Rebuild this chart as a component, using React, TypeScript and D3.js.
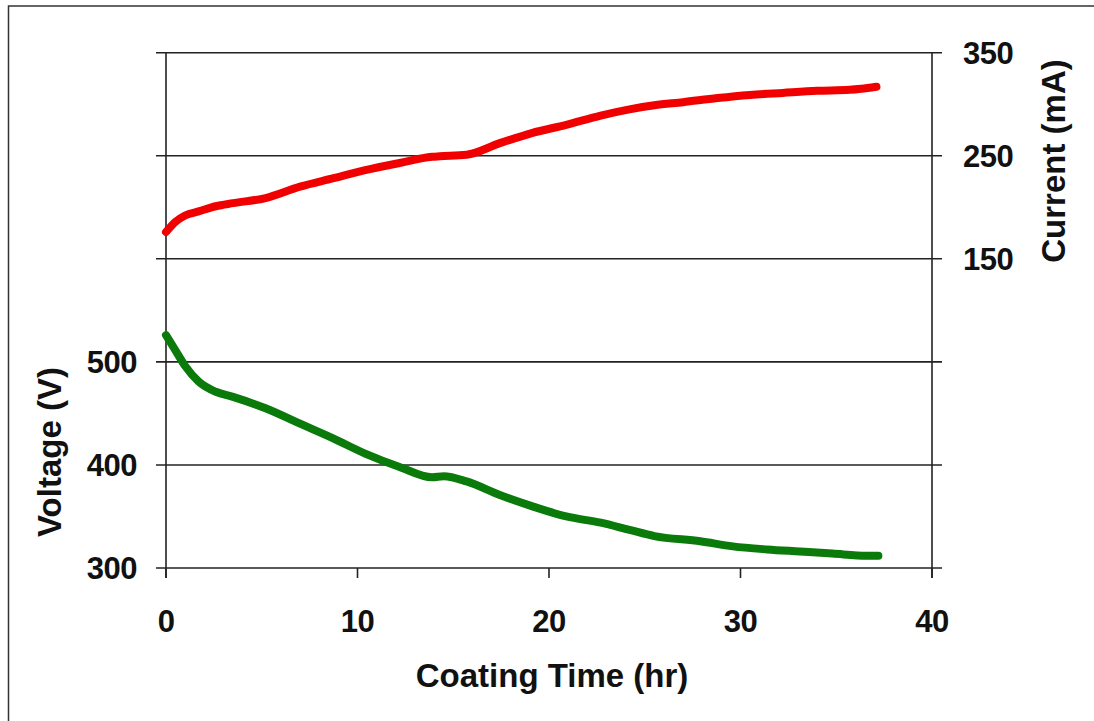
import * as d3 from "d3";

// Coating time (hr) and readings
const voltTime = [0, 0.5, 1, 1.7, 2.6, 3.5, 5.2, 7, 8.7, 10.4, 12.2, 13.9, 14.5, 15.7, 17.4, 19.1, 20.9, 22.7, 24.2, 25.5, 27.9, 29.6, 31.4, 33.1, 34.8, 36.6, 37.2];
const voltage = [526, 511, 496, 481, 471, 466, 455, 440, 426, 411, 398, 388, 389, 384, 371, 360, 350, 344, 337, 331, 326, 321, 318, 316, 314, 312, 312];

const currTime = [0, 0.5, 1, 1.7, 2.6, 3.5, 5.2, 7, 8.7, 10.4, 12.2, 13.9, 14.3, 15.7, 17.4, 19.1, 20.9, 22.7, 24.2, 25.5, 27, 28.8, 30.5, 32.2, 34, 35.7, 36.3, 37.1];
const current = [176, 186, 192, 196, 201, 204, 209, 220, 228, 236, 243, 249, 249.5, 251, 262, 272, 280, 289, 295, 299, 302, 306, 309, 311, 313, 314, 315, 317];

const xTicks = [0, 10, 20, 30, 40];
const gridVolts = [300, 400, 500, 600, 700, 800];
const voltLabels = [300, 400, 500];
const currLabels = [150, 250, 350];

const W = 1094, H = 721;
const font = "'Liberation Sans', Arial, sans-serif";

export default function App() {
  const left = 166, right = 932, top = 52.7, bottom = 568;
  const tick = 10;

  const x = d3.scaleLinear().domain([0, 40]).range([left, right]);
  const yV = d3.scaleLinear().domain([300, 800]).range([bottom, top]);
  const yC = d3.scaleLinear().domain([-150, 350]).range([bottom, top]);

  const voltLine = d3
    .line<number>()
    .x((d, i) => x(voltTime[i]))
    .y((d) => yV(d))
    .curve(d3.curveMonotoneX);
  const currLine = d3
    .line<number>()
    .x((d, i) => x(currTime[i]))
    .y((d) => yC(d))
    .curve(d3.curveMonotoneX);

  const ink = "#222";

  return (
    <svg
      width={W}
      height={H}
      style={{ position: "absolute", left: 0, top: 0, background: "#fff" }}
    >
      <rect x={0} y={0} width={W} height={H} fill="#fff" />
      <rect x={8.5} y={6} width={1200} height={900} fill="none" stroke="#333" strokeWidth={1.5} />

      {/* gridlines with outside ticks on both sides */}
      {gridVolts.map((v) => (
        <line key={v} x1={left - tick} x2={right + tick} y1={yV(v)} y2={yV(v)} stroke={ink} strokeWidth={1.6} />
      ))}
      <line x1={left} x2={left} y1={top} y2={bottom + tick} stroke={ink} strokeWidth={1.6} />
      <line x1={right} x2={right} y1={top} y2={bottom + tick} stroke={ink} strokeWidth={1.6} />
      {xTicks.map((t) => (
        <line key={t} x1={x(t)} x2={x(t)} y1={bottom} y2={bottom + tick} stroke={ink} strokeWidth={1.6} />
      ))}

      <path d={currLine(current) || ""} fill="none" stroke="#f00000" strokeWidth={8} strokeLinecap="round" strokeLinejoin="round" />
      <path d={voltLine(voltage) || ""} fill="none" stroke="#0a7a0a" strokeWidth={8} strokeLinecap="round" strokeLinejoin="round" />

      <g fontFamily={font} fontWeight="bold" fontSize={31} fill="#111">
        {voltLabels.map((v) => (
          <text key={v} x={137} y={yV(v)} dy="0.35em" textAnchor="end" letterSpacing={-0.5}>
            {v}
          </text>
        ))}
        {currLabels.map((c) => (
          <text key={c} x={963} y={yC(c)} dy="0.35em" textAnchor="start" letterSpacing={-0.5}>
            {c}
          </text>
        ))}
        {xTicks.map((t) => (
          <text key={t} x={x(t)} y={621} dy="0.35em" textAnchor="middle" letterSpacing={-0.5}>
            {t}
          </text>
        ))}
      </g>

      <g fontFamily={font} fontWeight="bold" fontSize={33} fill="#111">
        <text x={552} y={687} textAnchor="middle">
          Coating Time (hr)
        </text>
        <text transform={`translate(61,452) rotate(-90)`} textAnchor="middle">
          Voltage (V)
        </text>
        <text transform={`translate(1065,161) rotate(-90)`} textAnchor="middle">
          Current (mA)
        </text>
      </g>
    </svg>
  );
}
